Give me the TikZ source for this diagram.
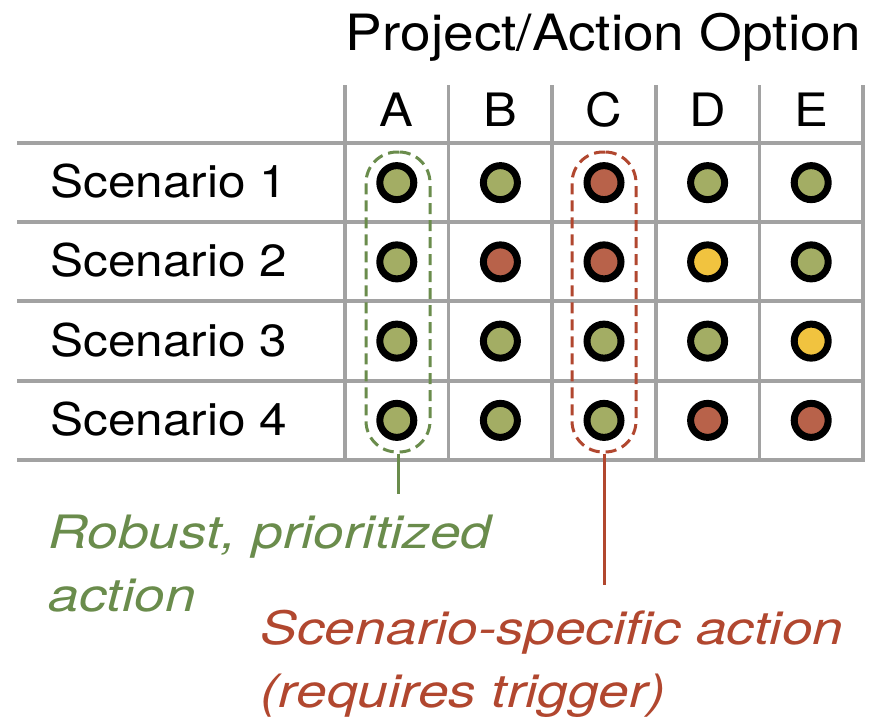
\documentclass[tikz,border=0pt]{standalone}
\usepackage{fontspec}
\setmainfont[FakeStretch=1.1]{TeX Gyre Heros}
\newfontfamily\notefont[FakeStretch=1.2]{TeX Gyre Heros}
\definecolor{gridgray}{HTML}{A2A2A2}
\definecolor{dotgreen}{HTML}{A3AD64}
\definecolor{dotred}{HTML}{B8624A}
\definecolor{dotyellow}{HTML}{F1C33F}
\definecolor{robustgreen}{HTML}{6A8C4C}
\definecolor{triggerred}{HTML}{B1472F}

\begin{document}
\begin{tikzpicture}[
    x=1pt, y=-1pt,
    gridline/.style={draw=gridgray, line width=3.5pt},
    dot/.style={circle, draw=black, line width=7pt, minimum size=34pt, inner sep=0pt},
    colhead/.style={anchor=base, font=\fontsize{46}{55}\selectfont},
    rowhead/.style={anchor=base west, font=\fontsize{45}{54}\selectfont},
    hoop/.style={draw, dash pattern=on 11pt off 6pt, line width=3pt,
                 rounded corners=31pt, minimum width=64pt, minimum height=300pt,
                 inner sep=0pt},
    lead/.style={line width=3pt},
    note/.style={anchor=base west, align=left,
                 font=\notefont\itshape\fontsize{46}{63}\selectfont},
]
\useasboundingbox (0,0) rectangle (873,724);

% ---------------- Table grid ----------------
\foreach \y in {143,222,301,381,460}
  \draw[gridline] (17,\y) -- (864.5,\y);
\foreach \x in {345,448.6,552.2,655.8,759.4,863}
  \draw[gridline] (\x,85) -- (\x,460);

% ---------------- Headers ----------------
\node[anchor=base east, font=\fontsize{50}{60}\selectfont] (title) at (865,50)
  {Project/Action Option};
\foreach \c [count=\i] in {A,B,C,D,E}
  \node[colhead] (col\c) at ({345+103.6*(\i-0.5)},126) {\c};
\foreach \r in {1,...,4}
  \node[rowhead] (row\r) at (47,{143+79.25*(\r-0.5)+15}) {Scenario \r};

% ---------------- Ratings ----------------
\foreach \r/\fills in {1/{dotgreen,dotgreen,dotred,dotgreen,dotgreen},
                       2/{dotgreen,dotred,dotred,dotyellow,dotgreen},
                       3/{dotgreen,dotgreen,dotgreen,dotgreen,dotyellow},
                       4/{dotgreen,dotgreen,dotgreen,dotred,dotred}}
  \foreach \f [count=\c] in \fills
    \node[dot, fill=\f] (dot-\r-\c) at ({345+103.6*(\c-0.5)},{143+79.25*(\r-0.5)}) {};

% ---------------- Callouts ----------------
\node[hoop, draw=robustgreen] (robust) at (398,302) {};
\node[hoop, draw=triggerred] (trigger) at (604,302) {};

\coordinate (robustend) at (398,494);
\coordinate (triggerend) at (604,585);
\draw[lead, robustgreen] (robust.south) -- (robustend);
\draw[lead, triggerred] (trigger.south) -- (triggerend);

% base anchor sits on the last line of a two-line node
\node[note, text=robustgreen] (robustnote) at (45,611)
  {Robust, prioritized\\action};
\node[note, text=triggerred] (triggernote) at (257,707)
  {Scenario-specific action\\(requires trigger)};

\end{tikzpicture}
\end{document}
